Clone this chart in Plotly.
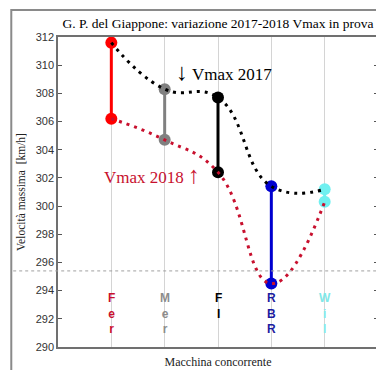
import plotly.graph_objects as go

# ---- data ----
cars = ["Fer", "Mer", "FI", "RBR", "Wil"]
car_labels = ["F<br>e<br>r", "M<br>e<br>r", "F<br>I", "R<br>B<br>R", "W<br>i<br>l"]
vmax_2017 = [311.6, 308.3, 307.7, 301.4, 301.2]
vmax_2018 = [306.2, 304.7, 302.4, 294.5, 300.3]
ref_line = 295.4
y_ticks = [290, 292, 294, 296, 298, 300, 302, 304, 306, 308, 310, 312]

# ---- styles ----
marker_colors = ["#FF0000", "#808080", "#000000", "#0000D0", "#70F0F0"]
label_colors = ["#C8102E", "#8C8C8C", "#000000", "#1C1CA0", "#80E8E8"]
red_dark = "#C8102E"
serif = "Liberation Serif, Times New Roman, serif"
sans = "Liberation Sans, Arial, sans-serif"

xpos = list(range(1, len(cars) + 1))

fig = go.Figure()

# stems with markers
for i, car in enumerate(cars):
    fig.add_trace(go.Scatter(
        x=[xpos[i], xpos[i]], y=[vmax_2017[i], vmax_2018[i]],
        mode="lines+markers",
        line=dict(color=marker_colors[i], width=3),
        marker=dict(color=marker_colors[i], size=12),
        showlegend=False, hoverinfo="skip", name=car,
    ))

# dotted spline curves
fig.add_trace(go.Scatter(
    x=xpos, y=vmax_2017, mode="lines",
    line=dict(color="black", width=3, dash="3px,5px", shape="spline", smoothing=1.3),
    showlegend=False, name="Vmax 2017",
))
fig.add_trace(go.Scatter(
    x=xpos, y=vmax_2018, mode="lines",
    line=dict(color=red_dark, width=3, dash="3px,5px", shape="spline", smoothing=1.3),
    showlegend=False, name="Vmax 2018",
))

# category labels (vertical letters)
for i, lab in enumerate(car_labels):
    fig.add_annotation(
        x=xpos[i], y=294.15, xref="x", yref="y", text="<b>" + lab + "</b>", showarrow=False,
        xanchor="center", yanchor="top",
        font=dict(family=sans, size=12, color=label_colors[i]),
    )

# text annotations
arrow_span = "<span style='font-size:24px'>{}</span>"
fig.add_annotation(x=2.17, y=309.5, text=arrow_span.format("↓") + " Vmax 2017", showarrow=False,
                   xanchor="left", yanchor="middle",
                   font=dict(family=serif, size=17, color="black"))
fig.add_annotation(x=0.82, y=302.2, text="Vmax 2018 " + arrow_span.format("↑"), showarrow=False,
                   xanchor="left", yanchor="middle",
                   font=dict(family=serif, size=17, color=red_dark))

# dashed reference line
fig.add_shape(type="line", xref="paper", yref="y",
              x0=-0.14, x1=1.025, y0=ref_line, y1=ref_line,
              line=dict(color="#A0A0A0", width=1, dash="3px,3px"))

# outer frame
fig.add_shape(type="rect", xref="paper", yref="paper",
              x0=-0.146, x1=1.028, y0=-0.0903, y1=1.087,
              line=dict(color="#8A8A8A", width=2))

fig.update_layout(
    width=384, height=370,
    margin=dict(l=50, r=12, t=29, b=31),
    paper_bgcolor="white", plot_bgcolor="white",
    title=dict(text="G. P. del Giappone: variazione 2017-2018 Vmax in prova",
               x=0.5, xref="paper", xanchor="center", y=1 - 15.5 / 370, yanchor="middle",
               font=dict(family=serif, size=13.5, color="black")),
    xaxis=dict(range=[0, 6], tickvals=xpos, showticklabels=False, ticks="",
               showgrid=True, gridcolor="#D4D4D4", gridwidth=1,
               showline=True, mirror=True, linecolor="#707070", linewidth=1.5,
               zeroline=False,
               title=dict(text="Macchina concorrente", standoff=10,
                          font=dict(family=serif, size=12, color="#222"))),
    yaxis=dict(range=[290, 312], tickvals=y_ticks, ticks="inside", ticklen=4,
               tickcolor="#555", showgrid=False, zeroline=False,
               showline=True, mirror="ticks", linecolor="#707070", linewidth=1.5,
               tickfont=dict(family=sans, size=11, color="#333"),
               title=dict(text="Velocità massima  [km/h]", standoff=8,
                          font=dict(family=serif, size=11.5, color="#222"))),
)

fig.write_html("out.html")
